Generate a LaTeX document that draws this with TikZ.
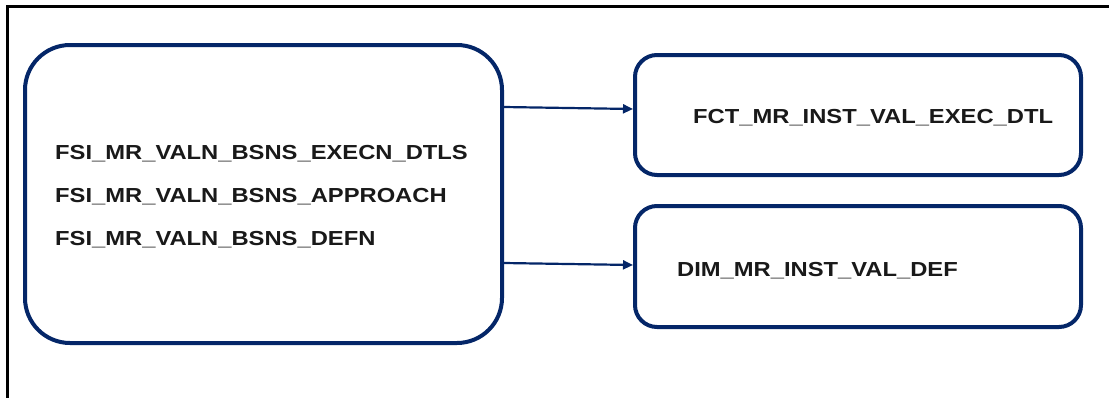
\documentclass[tikz,border=0pt]{standalone}
\usepackage{fontspec}
\setmainfont{Liberation Sans}[FakeStretch=1.17]
\usetikzlibrary{arrows.meta}
\definecolor{navy}{RGB}{4,38,104}
\definecolor{ink}{RGB}{25,25,25}
\tikzset{
  x=1pt, y=1pt,
  box/.style={draw=navy, line width=4pt, fill=white, inner sep=0pt},
  txt/.style={text=ink, font=\fontsize{20.3}{43}\selectfont\bfseries, inner sep=0pt},
  arr/.style={draw=navy, line width=2.2pt, -{Triangle[length=10pt,width=9pt]}}
}
\begin{document}
\begin{tikzpicture}
\useasboundingbox (0,0) rectangle (1109,-397);
% frame
\draw[black, line width=3pt] (7,-400) -- (7,-6) -- (1112,-6);
% boxes
\node[box, rounded corners=45pt, minimum width=477pt, minimum height=298pt] (src) at (263.5,-194) {};
\node[box, rounded corners=22pt, minimum width=446pt, minimum height=120pt] (fct) at (858,-115) {};
\node[box, rounded corners=22pt, minimum width=446pt, minimum height=121pt] (dim) at (858,-266.5) {};
% labels
\node[txt, anchor=west, align=left] (srctxt) at (55,-196.5)
  {FSI\_MR\_VALN\_BSNS\_EXECN\_DTLS\\FSI\_MR\_VALN\_BSNS\_APPROACH\\FSI\_MR\_VALN\_BSNS\_DEFN};
\node[txt, anchor=west] (fcttxt) at (693,-117.5) {FCT\_MR\_INST\_VAL\_EXEC\_DTL};
\node[txt, anchor=west] (dimtxt) at (677,-270.5) {DIM\_MR\_INST\_VAL\_DEF};
% connectors
\draw[arr] (src.east |- 0,-107) -- (fct.west |- 0,-109);
\draw[arr] (src.east |- 0,-263) -- (dim.west |- 0,-265);
\end{tikzpicture}
\end{document}
